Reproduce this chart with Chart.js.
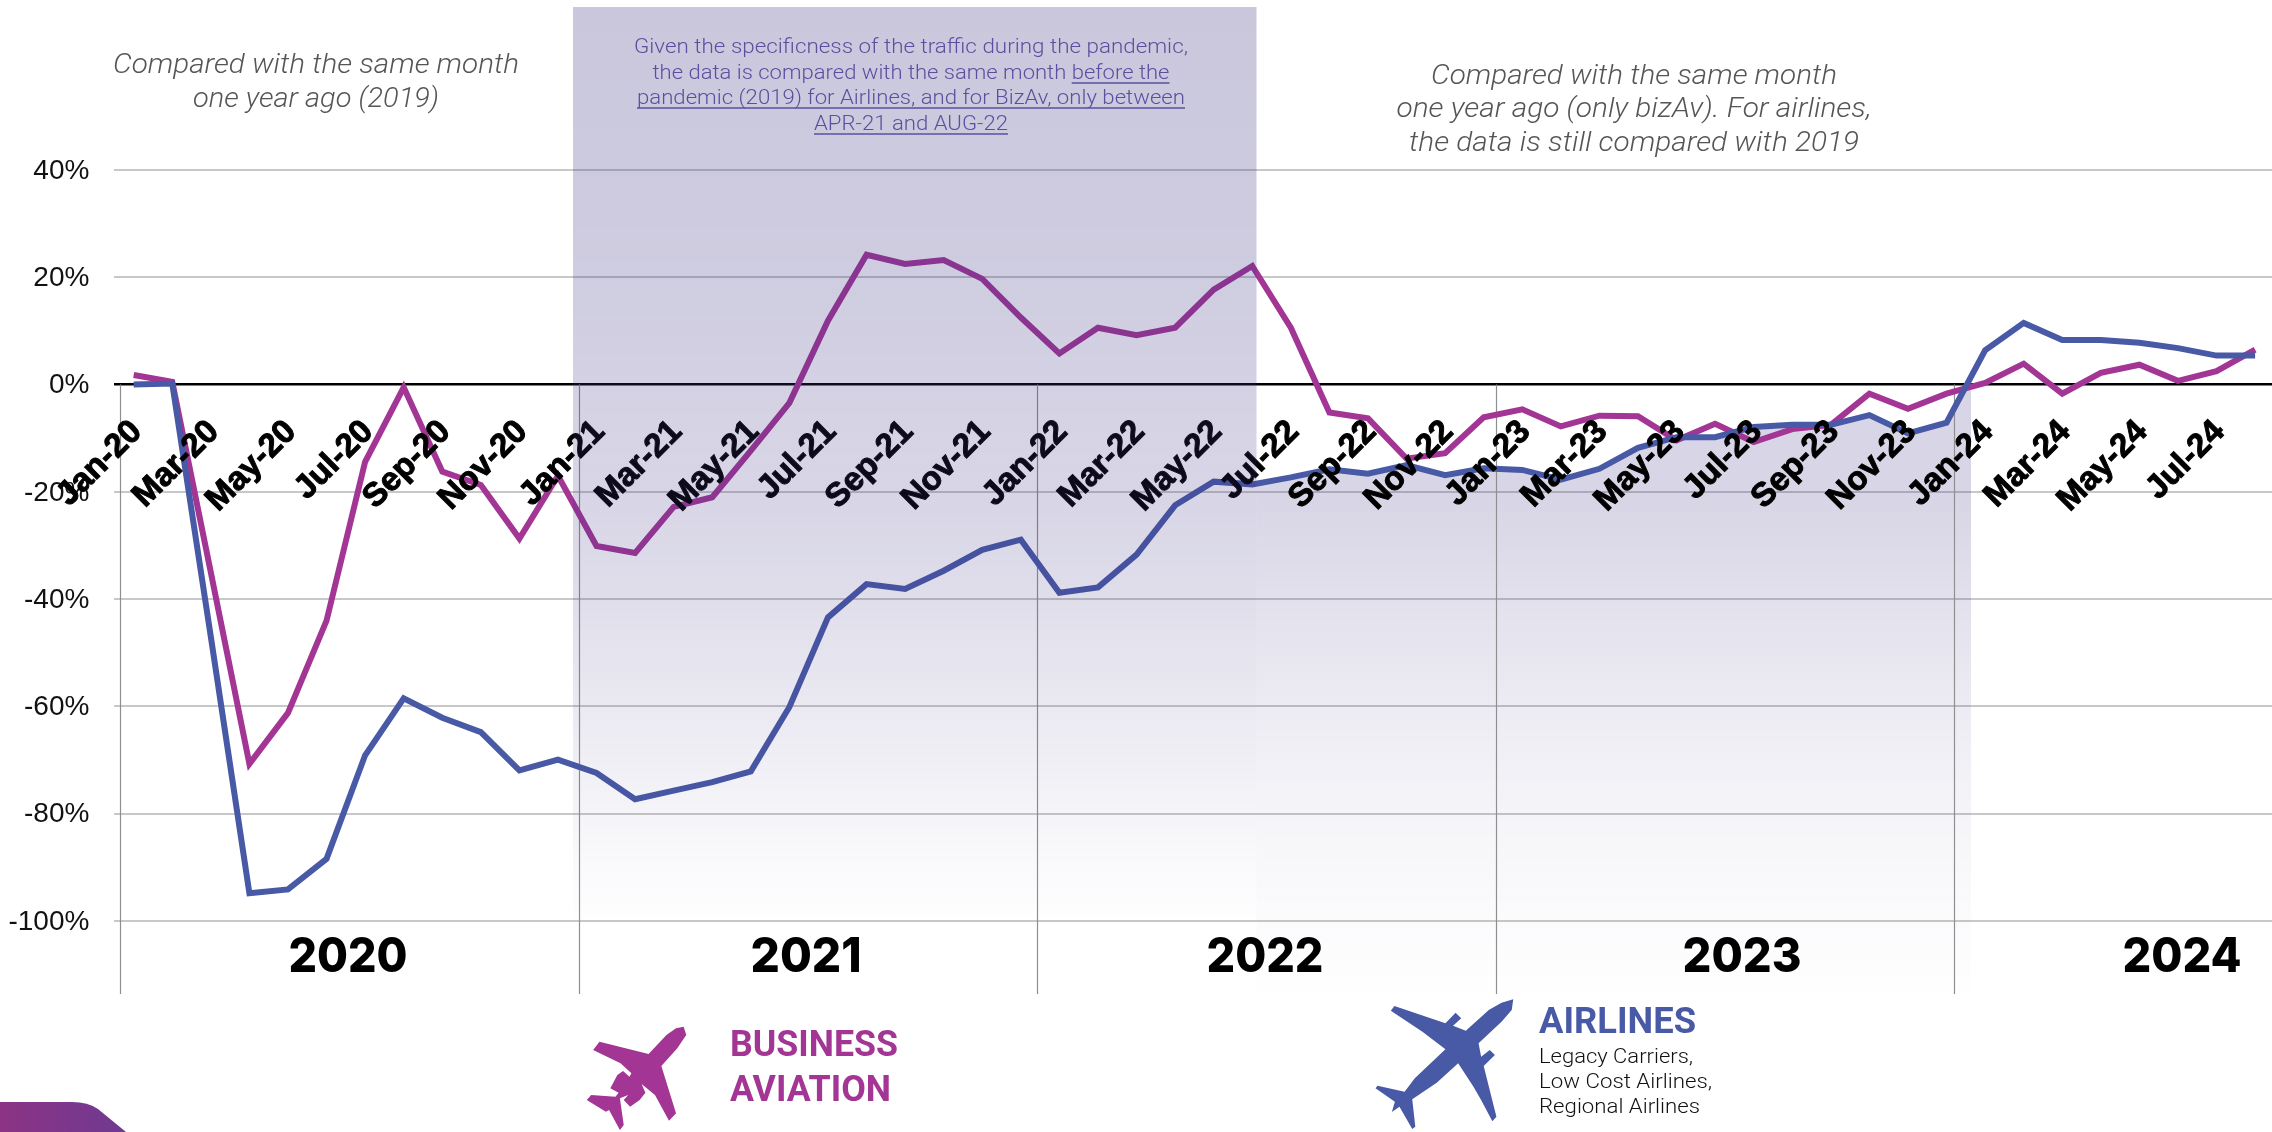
<!DOCTYPE html>
<html><head><meta charset="utf-8">
<style>html,body{margin:0;padding:0;background:#fff;overflow:hidden;width:2272px;height:1132px}canvas{display:block}</style>
<script src="https://cdn.jsdelivr.net/npm/chart.js@4"></script>
</head><body>
<canvas id="c" width="2275" height="1132" style="width:2275px;height:1132px"></canvas>
<script>
const MONTHS = ["Jan-20","Feb-20","Mar-20","Apr-20","May-20","Jun-20","Jul-20","Aug-20","Sep-20","Oct-20","Nov-20","Dec-20",
"Jan-21","Feb-21","Mar-21","Apr-21","May-21","Jun-21","Jul-21","Aug-21","Sep-21","Oct-21","Nov-21","Dec-21",
"Jan-22","Feb-22","Mar-22","Apr-22","May-22","Jun-22","Jul-22","Aug-22","Sep-22","Oct-22","Nov-22","Dec-22",
"Jan-23","Feb-23","Mar-23","Apr-23","May-23","Jun-23","Jul-23","Aug-23","Sep-23","Oct-23","Nov-23","Dec-23",
"Jan-24","Feb-24","Mar-24","Apr-24","May-24","Jun-24","Jul-24","Aug-24"];
const TICK_LABELS = ["Jan-20","Mar-20","May-20","Jul-20","Sep-20","Nov-20","Jan-21","Mar-21","May-21","Jul-21","Sep-21","Nov-21",
"Jan-22","Mar-22","May-22","Jul-22","Sep-22","Nov-22","Jan-23","Mar-23","May-23","Jul-23","Sep-23","Nov-23","Jan-24","Mar-24","May-24","Jul-24"];
const BUSINESS_AVIATION = [1.8,0.5,-35,-70.7,-61.2,-44,-14.4,-0.5,-16.2,-18.7,-28.7,-17,
-30.1,-31.4,-22.8,-21,-12.3,-3.4,11.9,24.2,22.5,23.2,19.7,12.5,
5.8,10.6,9.2,10.6,17.7,22.1,10.6,-5.2,-6.3,-13.8,-12.8,-6.1,
-4.6,-7.8,-5.8,-5.9,-10.4,-7.3,-10.7,-8.3,-7.5,-1.7,-4.5,-1.7,
0.3,3.9,-1.7,2.2,3.7,0.7,2.5,6.5];
const AIRLINES = [0,0.2,-47,-94.8,-94.1,-88.4,-69.1,-58.5,-62.1,-64.8,-71.9,-69.9,
-72.4,-77.3,-75.7,-74.1,-72.1,-60.1,-43.4,-37.2,-38.1,-34.7,-30.8,-28.9,
-38.8,-37.8,-31.7,-22.5,-18.1,-18.6,-17.3,-15.8,-16.6,-15,-16.9,-15.6,
-15.9,-17.7,-15.7,-11.8,-9.8,-9.8,-7.9,-7.5,-7.5,-5.7,-9.1,-7.1,
6.4,11.5,8.3,8.3,7.8,6.8,5.4,5.4];
const Y_TICKS = [40,20,0,-20,-40,-60,-80,-100];
const YEARS = ["2020","2021","2022","2023","2024"];
const YEAR_DIVIDER_MONTH_INDEX = [-0.355,11.535,23.42,35.32,47.2];

const BLUE="#4859a6", MAG="#a33595", SANS="'Liberation Sans',Arial,sans-serif";

function fitText(ctx,t,x,y,w,align){
  const m=ctx.measureText(t).width, k=w/m;
  ctx.save(); ctx.textAlign='left'; ctx.textBaseline='alphabetic';
  const left = align==='center'? x-w/2 : x;
  ctx.translate(left,y); ctx.scale(k,1); ctx.fillText(t,0,0); ctx.restore();
  return [left,left+w];
}
function vgrad(ctx,y0,y1,stops){
  const g=ctx.createLinearGradient(0,y0,0,y1);
  stops.forEach(s=>g.addColorStop((s[0]-y0)/(y1-y0),`rgba(60,50,130,${s[1]})`));
  return g;
}
function poly(ctx,pts,ox,oy,sx,sy){ctx.beginPath();pts.forEach((p,i)=>{const X=ox+p[0]/sx,Y=oy+p[1]/sy;i?ctx.lineTo(X,Y):ctx.moveTo(X,Y)});ctx.closePath();ctx.fill();}
const JET=[[1072,200],[1076,225],[1062,265],[1037,318],[1060,460],[1049,482],[1027,405],[1006,372],[1012,398],[1003,420],[988,440],[978,420],[985,405],[972,415],[978,495],[972,510],[955,450],[950,455],[920,420],[927,405],[965,410],[970,398],[957,385],[968,345],[977,333],[987,350],[990,340],[973,310],[930,270],[940,245],[1017,282],[1045,225],[1060,205]];
const LINER=[[418,118],[415,150],[395,185],[350,250],[355,290],[372,270],[382,285],[360,318],[385,470],[377,484],[355,420],[340,380],[310,310],[268,368],[220,418],[226,500],[220,507],[195,440],[180,456],[186,425],[148,385],[152,377],[205,395],[225,355],[285,268],[240,215],[178,152],[185,138],[285,190],[305,158],[316,175],[300,197],[325,212],[370,150],[395,128]];

const decor={id:'decor',
 beforeDatasetsDraw(ch){
  const c=ch.ctx,a=ch.getDatasetMeta(0).data;
  c.save();c.beginPath();c.rect(1256.5,0,714.5,1132);c.clip();
  c.fillStyle=vgrad(c,385,1000,[[385,.2],[500,.2],[600,.15],[707,.095],[814,.05],[921,.02],[1000,0]]);
  c.beginPath();
  a.forEach((p,i)=>{i?c.lineTo(p.x,p.y):c.moveTo(p.x,p.y)});
  c.lineTo(a[a.length-1].x,1000);c.lineTo(a[0].x,1000);c.closePath();c.fill();c.restore();
  const xs=ch.scales.x,y0=ch.scales.y.getPixelForValue(0),b=ch.chartArea.bottom;
  c.save();c.strokeStyle='#8f8f8f';c.lineWidth=1.2;
  YEAR_DIVIDER_MONTH_INDEX.forEach(v=>{const x=Math.round(xs.getPixelForValue(v))+.5;c.beginPath();c.moveTo(x,y0);c.lineTo(x,b);c.stroke();});
  c.restore();
 },
 afterDraw(ch){
  const c=ch.ctx;
  c.fillStyle=vgrad(c,7,1000,[[7,.27],[250,.25],[500,.2],[600,.16],[707,.105],[814,.05],[900,.012],[930,0],[1000,0]]);
  c.fillRect(573,7,683.5,993);

  c.fillStyle='#000';c.font="800 48px Inter,"+SANS;
  [[348,119],[806,111],[1265,117],[1742,119],[2182,119]].forEach((p,i)=>fitText(c,YEARS[i],p[0],972,p[1],'center'));

  c.fillStyle='#555';c.font="italic 300 28px Roboto,"+SANS;
  fitText(c,"Compared with the same month",316,73,406,'center');
  fitText(c,"one year ago (2019)",316,107,246,'center');
  fitText(c,"Compared with the same month",1634,84,406,'center');
  fitText(c,"one year ago (only bizAv). For airlines,",1634,117,475,'center');
  fitText(c,"the data is still compared with 2019",1634,151,450,'center');

  c.fillStyle='#5b4f9e';c.strokeStyle='#5b4f9e';c.lineWidth=1.5;c.font="300 21px Roboto,"+SANS;
  const ul=(a,b,y)=>{c.beginPath();c.moveTo(a,y+4);c.lineTo(b,y+4);c.stroke();};
  fitText(c,"Given the specificness of the traffic during the pandemic,",911,53,554,'center');
  const l2=fitText(c,"the data is compared with the same month before the",911,79,517,'center');
  const tail=517*c.measureText("before the").width/c.measureText("the data is compared with the same month before the").width;
  ul(l2[1]-tail,l2[1],79);
  const l3=fitText(c,"pandemic (2019) for Airlines, and for BizAv, only between",911,104,548,'center');ul(l3[0],l3[1],104);
  const l4=fitText(c,"APR-21 and AUG-22",911,130,194,'center');ul(l4[0],l4[1],130);

  c.fillStyle=MAG;poly(c,JET,0,960,1.568,3);
  c.font="bold 37px 'Liberation Sans Narrow',Roboto,"+SANS;
  fitText(c,"BUSINESS",730,1056,168);
  fitText(c,"AVIATION",730,1101,161);
  c.fillStyle=BLUE;poly(c,LINER,1300,960,1.96,3);
  fitText(c,"AIRLINES",1539,1033,157);
  c.fillStyle='#111';c.font="300 21px Roboto,"+SANS;
  fitText(c,"Legacy Carriers,",1539,1063,154);
  fitText(c,"Low Cost Airlines,",1539,1088,173);
  fitText(c,"Regional Airlines",1539,1113,161);

  const t=c.createLinearGradient(0,0,126,0);t.addColorStop(0,'#8c3384');t.addColorStop(1,'#6f3a92');
  c.fillStyle=t;c.beginPath();c.moveTo(0,1102);c.lineTo(72,1102);c.quadraticCurveTo(88,1102,98,1109);c.lineTo(126,1132);c.lineTo(0,1132);c.closePath();c.fill();
 }};

new Chart(document.getElementById('c'),{type:'line',
 data:{labels:MONTHS,datasets:[
  {label:'Airlines',data:AIRLINES,borderColor:BLUE,borderWidth:6,pointRadius:0,tension:0,borderJoinStyle:'miter',fill:false,order:1},
  {label:'Business Aviation',data:BUSINESS_AVIATION,borderColor:MAG,borderWidth:6,pointRadius:0,tension:0,borderJoinStyle:'miter',fill:false,order:2}
 ]},
 options:{responsive:false,animation:false,
  layout:{padding:{top:170,bottom:138,left:0,right:0.6}},
  plugins:{legend:{display:false},tooltip:{enabled:false},title:{display:false}},
  scales:{
   x:{type:'category',offset:true,position:{y:0},
    border:{display:false},grid:{display:false,drawTicks:false},
    ticks:{autoSkip:false,minRotation:45,maxRotation:45,z:1,padding:28,labelOffset:3,color:'#000',textStrokeColor:'#000',textStrokeWidth:1,
     font:{family:SANS,weight:'bold',size:33},
     callback(v,i){return i%2===0?TICK_LABELS[i/2]:'';}},
    afterFit(s){s.paddingLeft=0;s.paddingRight=0;s.height=0;}},
   y:{min:-113.6,max:40,position:'left',
    afterBuildTicks(s){s.ticks=Y_TICKS.map(v=>({value:v}));},
    afterFit(s){s.width=114.4;s.paddingTop=0;s.paddingBottom=0;},
    border:{display:false},
    grid:{drawTicks:false,color:c=>c.tick&&c.tick.value===0?'#000':'#c8c8c8',lineWidth:c=>c.tick&&c.tick.value===0?2.5:2},
    ticks:{padding:25,labelOffset:1,color:'#111',font:{family:SANS,size:28},callback:v=>v+'%'}}
  }},
 plugins:[decor]});
</script>
</body></html>
